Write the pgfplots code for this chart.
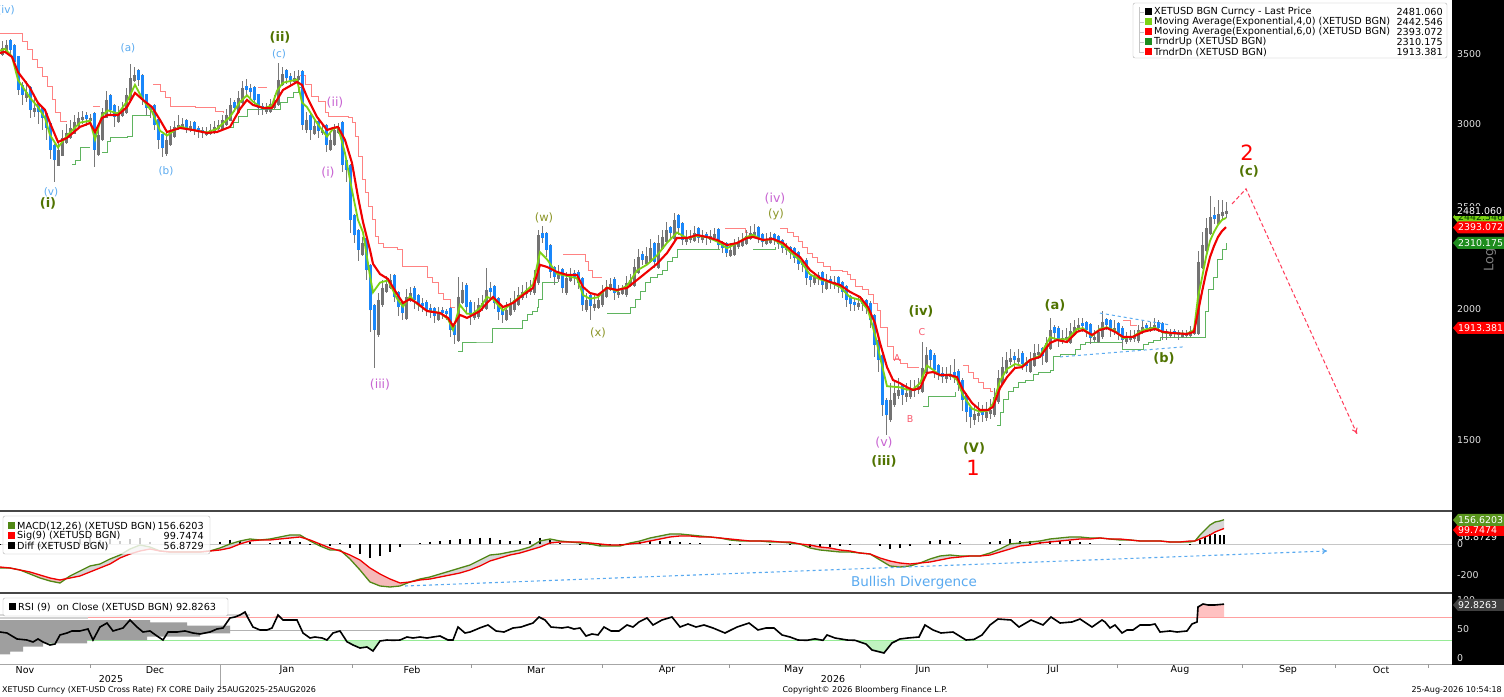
\documentclass[border=0pt]{standalone}
\usepackage{fontspec}
\setmainfont{DejaVu Sans}
\usepackage{pgfplots}
\pgfplotsset{compat=1.18}
\usepackage{pgfplotstable}
\usetikzlibrary{arrows.meta}
\newcommand{\fs}[1]{\fontsize{#1pt}{#1pt}\selectfont}
\definecolor{cblue}{RGB}{25,135,250}
\definecolor{cgrey}{RGB}{115,115,115}
\definecolor{cwick}{RGB}{120,120,120}
\definecolor{emag}{RGB}{124,210,20}
\definecolor{emar}{RGB}{240,0,0}
\definecolor{tup}{RGB}{95,180,95}
\definecolor{tupdark}{RGB}{30,140,30}
\definecolor{tdn}{RGB}{255,130,130}
\definecolor{lblue}{RGB}{90,170,240}
\definecolor{olive}{RGB}{80,115,0}
\definecolor{olivel}{RGB}{140,150,40}
\definecolor{orch}{RGB}{200,100,210}
\definecolor{pinkl}{RGB}{250,90,110}
\definecolor{macdg}{RGB}{80,135,20}
\definecolor{macdtag}{RGB}{90,150,30}
\definecolor{fillpink}{RGB}{245,185,185}
\definecolor{fillgrey}{RGB}{215,215,215}
\definecolor{rsired}{RGB}{255,160,160}
\definecolor{rsigreen}{RGB}{150,235,150}
\definecolor{tickgrey}{RGB}{225,225,225}
\definecolor{sepgrey}{RGB}{70,70,70}
\definecolor{arrowred}{RGB}{255,60,90}

\pgfplotstableread{
x o h l c
2 3493 3600 3488 3547
6 3524 3610 3519 3570
10 3609 3614 3480 3531
14 3573 3578 3400 3439
18 3481 3486 3200 3234
22 3269 3290 3130 3199
26 3178 3300 3150 3220
30 3258 3263 3040 3095
34 3079 3180 3050 3109
38 3137 3150 3000 3081
42 3117 3120 2960 3041
46 3077 3082 2900 2975
50 3010 3015 2780 2835
54 2869 2874 2640 2773
58 2739 2880 2734 2835
62 2800 2960 2795 2911
66 2879 3000 2874 2943
70 2911 3030 2906 2975
74 2939 3060 2934 3015
78 2989 3080 2984 3041
82 3026 3090 3000 3048
86 3063 3080 2990 3035
90 3020 3070 2990 3041
94 3077 3082 2730 2835
98 2801 2960 2796 2930
102 2895 3110 2890 3081
106 3044 3230 3039 3164
110 3201 3206 3070 3095
114 3132 3137 2980 3048
118 3015 3120 3010 3081
122 3053 3150 3048 3109
126 3072 3250 3067 3199
130 3160 3420 3155 3320
134 3298 3400 3290 3342
138 3378 3383 3260 3306
142 3345 3350 3130 3164
146 3202 3207 3060 3109
150 3125 3130 3040 3095
154 3132 3137 2960 2995
158 3031 3036 2840 2898
162 2933 2938 2790 2847
166 2812 2940 2800 2898
170 2863 2990 2858 2949
174 2916 3020 2911 2982
178 2967 3060 2960 2995
182 2980 3040 2970 3002
186 3029 3034 2940 2975
190 2960 3020 2950 2988
194 3014 3019 2930 2962
198 2977 2990 2910 2949
202 2964 2980 2910 2943
206 2928 2980 2920 2949
210 2934 3000 2929 2962
214 2942 3020 2937 2982
218 2967 3030 2960 2995
222 2962 3060 2957 3028
226 2995 3100 2990 3061
230 3024 3180 3019 3129
234 3149 3160 3080 3109
238 3072 3230 3067 3178
242 3140 3300 3135 3248
246 3264 3310 3200 3234
250 3250 3280 3180 3220
254 3258 3263 3130 3164
258 3202 3207 3060 3109
262 3125 3140 3060 3095
266 3080 3140 3070 3109
270 3082 3170 3077 3136
274 3108 3200 3103 3164
278 3126 3430 3121 3306
282 3266 3400 3261 3349
286 3378 3383 3280 3320
290 3337 3360 3270 3306
294 3290 3370 3280 3320
298 3304 3380 3290 3335
302 3375 3380 2960 2995
306 2962 3080 2940 3028
310 3064 3069 2900 2962
314 2936 3040 2931 2988
318 3020 3025 2910 2956
322 2941 3010 2930 2962
326 2997 3002 2820 2866
330 2834 2940 2829 2898
334 2863 3000 2858 2962
338 2942 3010 2937 2982
342 3017 3022 2700 2743
346 2773 2780 2640 2713
350 2744 2749 2360 2431
354 2460 2465 2310 2352
358 2380 2385 2220 2276
362 2249 2340 2244 2311
366 2338 2343 2130 2178
370 2203 2208 1900 1995
374 2018 2023 1755 1910
378 1887 2070 1882 2040
382 2015 2130 2010 2094
386 2075 2150 2070 2113
390 2095 2160 2090 2131
394 2156 2161 2030 2053
398 2077 2082 1970 2008
402 2032 2037 1950 1982
406 1958 2090 1953 2053
410 2035 2100 2030 2071
414 2096 2101 2000 2040
418 2063 2068 1990 2017
422 2027 2050 1985 2013
426 2031 2040 1970 1995
430 2005 2020 1960 1987
434 2005 2010 1940 1969
438 1951 2010 1946 1987
442 1997 2010 1955 1982
446 1992 2000 1950 1978
450 2002 2007 1880 1910
454 1931 1936 1850 1889
458 1866 2145 1861 2053
462 2028 2120 2023 2085
466 2110 2115 1985 2008
470 2032 2040 1930 1974
474 1961 2030 1950 1987
478 1963 2050 1958 2017
482 2007 2060 1990 2026
486 2001 2190 1996 2085
490 2095 2120 2040 2076
494 2101 2106 2000 2026
498 2050 2055 1950 1987
502 2000 2005 1940 1974
506 1953 2030 1948 1995
510 1973 2050 1968 2017
514 1994 2080 1989 2040
518 2018 2100 2013 2062
522 2048 2110 2040 2076
526 2066 2120 2050 2085
530 2074 2130 2060 2094
534 2069 2180 2064 2141
538 2115 2380 2110 2350
542 2363 2400 2310 2337
546 2365 2370 2240 2276
550 2303 2308 2140 2169
554 2193 2198 2110 2145
558 2134 2200 2120 2155
562 2181 2186 2070 2094
566 2069 2170 2064 2141
570 2127 2190 2120 2155
574 2166 2180 2110 2145
578 2171 2176 2090 2117
582 2142 2147 1990 2017
586 1994 2070 1989 2040
590 2064 2069 1950 2013
594 2003 2060 1990 2022
598 2004 2070 1999 2040
602 2015 2110 2010 2076
606 2053 2130 2048 2099
610 2085 2140 2080 2113
614 2138 2143 2040 2071
618 2061 2110 2050 2076
622 2066 2110 2060 2085
626 2060 2150 2055 2117
630 2103 2160 2098 2131
634 2105 2230 2100 2193
638 2166 2280 2161 2241
642 2255 2270 2200 2227
646 2208 2290 2203 2246
650 2219 2330 2214 2286
654 2313 2318 2190 2217
658 2190 2350 2185 2311
662 2283 2380 2278 2342
666 2314 2420 2309 2378
670 2393 2400 2330 2363
674 2334 2470 2329 2431
678 2460 2465 2350 2388
682 2416 2421 2300 2327
686 2315 2380 2300 2337
690 2325 2380 2310 2342
694 2321 2400 2316 2363
698 2389 2394 2310 2337
702 2325 2380 2310 2347
706 2359 2370 2300 2337
710 2325 2380 2310 2347
714 2335 2390 2320 2357
718 2385 2390 2280 2301
722 2316 2321 2260 2286
726 2311 2316 2240 2261
730 2246 2310 2240 2276
734 2251 2330 2246 2301
738 2289 2340 2280 2311
742 2295 2360 2290 2327
746 2307 2380 2302 2347
750 2331 2400 2326 2363
754 2351 2410 2340 2368
758 2396 2401 2310 2337
762 2357 2362 2290 2317
766 2305 2360 2300 2327
770 2312 2370 2307 2342
774 2357 2362 2300 2327
778 2348 2353 2280 2306
782 2326 2331 2260 2286
786 2297 2310 2250 2276
790 2291 2296 2230 2261
794 2285 2290 2210 2237
798 2264 2269 2180 2208
802 2219 2230 2170 2203
806 2229 2234 2110 2141
810 2152 2160 2100 2131
814 2117 2170 2110 2145
818 2156 2170 2110 2141
822 2167 2172 2070 2108
826 2090 2160 2085 2126
830 2137 2150 2090 2117
834 2106 2150 2090 2122
838 2145 2150 2070 2099
842 2122 2127 2050 2076
846 2101 2106 2010 2040
850 2058 2063 1990 2022
854 2032 2050 1990 2017
858 2007 2060 1995 2026
862 2036 2050 1990 2022
866 2040 2045 1980 2004
870 2028 2033 1920 1952
874 1975 1980 1800 1848
878 1870 1875 1740 1788
882 1809 1814 1580 1620
886 1639 1644 1517 1585
890 1566 1700 1560 1638
894 1618 1710 1613 1663
898 1652 1720 1640 1674
902 1692 1697 1620 1656
906 1648 1700 1630 1663
910 1649 1710 1640 1677
914 1669 1710 1650 1681
918 1673 1720 1660 1688
922 1667 1860 1662 1757
926 1736 1840 1731 1808
930 1828 1833 1760 1788
934 1809 1814 1720 1749
938 1768 1773 1710 1730
942 1739 1760 1700 1722
946 1713 1760 1700 1730
950 1721 1770 1710 1734
954 1743 1790 1700 1726
958 1747 1752 1670 1692
962 1712 1717 1600 1638
966 1657 1662 1560 1595
970 1612 1617 1540 1578
974 1568 1620 1550 1588
978 1580 1630 1560 1592
982 1600 1620 1560 1585
986 1575 1630 1565 1595
990 1587 1640 1570 1602
994 1583 1680 1578 1649
998 1629 1750 1624 1718
1002 1697 1800 1692 1760
1006 1739 1820 1734 1788
1010 1779 1830 1770 1796
1014 1805 1820 1760 1788
1018 1779 1830 1770 1796
1022 1817 1822 1750 1772
1026 1781 1800 1740 1764
1030 1743 1820 1738 1788
1034 1766 1850 1761 1816
1038 1807 1850 1790 1820
1042 1836 1841 1770 1804
1046 1782 1880 1777 1856
1050 1833 1960 1828 1910
1054 1923 1930 1860 1897
1058 1920 1925 1840 1868
1062 1859 1910 1850 1877
1066 1868 1920 1860 1881
1070 1858 1940 1853 1906
1074 1890 1950 1885 1922
1078 1912 1960 1900 1931
1082 1941 1960 1900 1927
1086 1944 1949 1880 1910
1090 1933 1938 1850 1877
1094 1868 1910 1860 1881
1098 1860 1930 1855 1902
1102 1879 1990 1874 1944
1106 1957 1962 1910 1931
1110 1952 1957 1880 1910
1114 1900 1950 1890 1918
1118 1939 1944 1870 1897
1122 1920 1925 1840 1868
1126 1859 1900 1850 1877
1130 1868 1910 1860 1881
1134 1872 1910 1860 1885
1138 1862 1930 1857 1910
1142 1898 1950 1893 1922
1146 1932 1940 1900 1918
1150 1908 1945 1900 1922
1154 1912 1960 1905 1931
1158 1944 1950 1900 1918
1162 1939 1944 1870 1897
1166 1907 1915 1870 1893
1170 1884 1915 1875 1897
1174 1907 1912 1875 1893
1178 1903 1910 1870 1889
1182 1880 1910 1875 1893
1186 1884 1910 1875 1895
1190 1884 1925 1879 1906
1194 1894 1945 1889 1918
1198 1894 2270 1889 2217
1202 2190 2370 2185 2301
1206 2273 2440 2268 2388
1210 2359 2560 2354 2447
1214 2459 2500 2410 2436
1218 2409 2540 2404 2463
1222 2451 2540 2430 2474
1226 2462 2530 2440 2481
}\candles

\pgfplotstableread{
x r g
0 3508 3525
5 3516 3540
12 3477 3480
18 3364 3306
30 3248 3179
38 3143 3115
45 3095 3041
50 3008 2930
58 2885 2850
67 2911 2925
80 2982 3010
90 3008 3023
95 2949 2900
102 3041 3059
108 3061 3092
118 3061 3070
127 3115 3153
135 3213 3271
143 3164 3164
152 3115 3084
160 3028 2957
167 2949 2926
180 2975 2985
193 2962 2962
207 2943 2946
217 2949 2970
230 2982 3048
240 3102 3150
247 3164 3196
253 3129 3152
263 3109 3103
272 3109 3127
277 3164 3228
283 3234 3286
297 3291 3309
302 3270 3146
307 3185 3114
317 3048 3007
327 2962 2919
333 2975 2969
338 2982 2982
345 2898 2815
352 2755 2595
358 2557 2431
363 2420 2366
370 2276 2150
373 2208 2074
380 2159 2119
388 2136 2129
397 2067 2046
403 2026 2010
410 2044 2056
417 2026 2022
427 1991 1992
440 1982 1983
448 1961 1956
453 1927 1910
460 1974 2017
467 1961 1979
473 1974 1979
480 1991 2005
487 2026 2053
493 2053 2043
503 2008 1993
513 2026 2030
523 2062 2068
533 2094 2110
540 2203 2265
547 2193 2230
557 2169 2160
567 2155 2150
577 2155 2139
583 2099 2062
590 2071 2045
598 2062 2052
607 2094 2097
617 2085 2080
627 2094 2104
637 2131 2176
647 2169 2204
657 2208 2249
667 2261 2312
677 2337 2365
687 2337 2336
697 2352 2347
707 2342 2341
717 2327 2319
727 2301 2285
737 2311 2310
747 2337 2343
753 2342 2353
763 2327 2324
773 2332 2331
783 2311 2299
793 2266 2254
800 2241 2225
810 2178 2157
820 2141 2134
830 2122 2120
840 2108 2099
850 2076 2052
860 2053 2040
868 2008 1995
875 1939 1890
880 1856 1800
887 1760 1688
893 1711 1686
900 1699 1684
907 1684 1675
913 1674 1677
920 1681 1699
927 1738 1766
933 1741 1750
940 1730 1728
950 1730 1732
957 1722 1712
963 1674 1654
972 1627 1607
980 1602 1596
988 1602 1600
993 1613 1625
1000 1681 1708
1007 1722 1753
1015 1757 1772
1022 1760 1765
1030 1788 1788
1040 1800 1805
1050 1856 1880
1057 1868 1871
1067 1860 1871
1077 1902 1914
1083 1910 1917
1092 1889 1885
1100 1910 1915
1107 1918 1921
1115 1902 1906
1123 1881 1876
1133 1881 1882
1143 1902 1910
1155 1914 1920
1163 1902 1899
1173 1897 1896
1187 1893 1894
1194 1902 1910
1198 1987 2053
1202 2076 2141
1206 2164 2241
1210 2241 2322
1214 2296 2368
1218 2342 2405
1222 2373 2431
1226 2393 2442
}\ema

\pgfplotstableread{
x m s
0 -154.8 -148.4
10 -154.8 -154.8
20 -167.7 -167.7
30 -193.5 -180.6
40 -219.3 -200
50 -238.7 -219.3
60 -251.6 -232.2
70 -206.4 -219.3
80 -174.2 -206.4
90 -141.9 -180.6
100 -129 -154.8
110 -96.8 -129
120 -71 -90.3
130 -32.3 -64.5
140 -6.5 -45.2
150 -19.4 -32.3
160 -45.2 -45.2
170 -51.6 -51.6
180 -51.6 -51.6
190 -51.6 -51.6
200 -51.6 -51.6
210 -45.2 -45.2
220 -25.8 -38.7
230 0 -25.8
240 19.4 0
250 32.3 19.4
260 25.8 25.8
270 32.3 25.8
280 45.2 32.3
290 58.1 38.7
300 58.1 45.2
310 19.4 25.8
320 -12.9 0
330 -38.7 -25.8
340 -38.7 -45.2
350 -96.8 -71
360 -167.7 -103.2
370 -245.1 -154.8
380 -270.9 -193.5
390 -277.4 -225.8
400 -270.9 -251.6
410 -245.1 -245.1
420 -225.8 -232.2
430 -212.9 -225.8
440 -193.5 -212.9
450 -174.2 -200
460 -154.8 -187
470 -135.5 -167.7
480 -103.2 -141.9
490 -71 -109.7
500 -64.5 -90.3
510 -51.6 -71
520 -38.7 -58.1
530 -19.4 -38.7
540 19.4 -19.4
550 32.3 6.5
560 19.4 12.9
570 12.9 12.9
580 6.5 12.9
590 0 6.5
600 -12.9 0
610 -12.9 -6.5
620 -12.9 -6.5
630 6.5 0
640 19.4 6.5
650 38.7 19.4
660 51.6 32.3
670 64.5 45.2
680 64.5 51.6
690 58.1 51.6
700 51.6 45.2
710 45.2 45.2
720 38.7 38.7
730 25.8 32.3
740 19.4 25.8
750 19.4 19.4
760 19.4 19.4
770 12.9 19.4
780 12.9 12.9
790 6.5 12.9
800 0 0
810 -25.8 -6.5
820 -38.7 -19.4
830 -45.2 -25.8
840 -51.6 -38.7
850 -51.6 -45.2
860 -58.1 -58.1
870 -64.5 -64.5
880 -103.2 -90.3
890 -141.9 -109.7
900 -148.4 -122.6
910 -141.9 -129
920 -122.6 -122.6
930 -96.8 -116.1
940 -77.4 -103.2
950 -71 -90.3
960 -77.4 -83.9
970 -77.4 -77.4
980 -77.4 -77.4
990 -58.1 -71
1000 -32.3 -51.6
1010 0 -32.3
1020 6.5 -12.9
1030 12.9 -6.5
1040 19.4 6.5
1050 32.3 12.9
1060 38.7 19.4
1070 45.2 25.8
1080 45.2 32.3
1090 38.7 32.3
1100 38.7 38.7
1110 32.3 32.3
1120 25.8 32.3
1130 25.8 25.8
1140 19.4 19.4
1150 19.4 19.4
1160 19.4 19.4
1170 12.9 12.9
1180 12.9 12.9
1190 12.9 19.4
1195 19.4 19.4
1200 58.1 32.3
1205 90.3 45.2
1210 122.6 58.1
1215 141.9 77.4
1220 148.4 90.3
1224 156.6 99.7
}\macd

\pgfplotstableread{
x r
0 44.8
7 43.1
17 32.8
27 31
33 27.6
38 32.8
43 27.6
50 22.4
55 24.1
60 39.7
67 43.1
72 46.6
80 46.6
88 50
93 31
100 53.4
107 60.3
113 46.6
123 51.7
130 65.5
137 53.4
143 44.8
150 46.6
157 37.9
163 31
168 44.8
177 44.8
185 46.6
193 43.1
200 41.4
210 44.8
217 50
223 51.7
230 69
235 70.7
240 74.1
245 79.3
248 69
253 53.4
260 48.3
267 48.3
272 51.7
278 74.1
283 65.5
290 65.5
297 65.5
303 43.1
310 34.5
315 36.2
322 34.5
327 31
333 43.1
340 46.6
347 28
353 22.4
360 17.2
367 19
373 12.1
380 29.3
387 31
393 30.5
400 31
407 36.2
413 34.5
420 36.2
427 34.5
433 36.2
440 37.9
448 31
453 31
458 53.4
465 43.1
470 44.8
475 48.3
480 52
488 56.9
496 46.6
504 44.8
513 51.7
521 53.4
527 56.9
533 60.3
539 70.7
545 65.5
551 53.4
562 51.7
568 53.4
574 50
580 51.7
586 37.9
592 41.4
598 39.7
604 53.4
611 46.6
619 46.6
627 56.9
633 53.4
639 62.1
647 69
653 56.9
662 65.5
672 70.7
680 53.4
688 58.6
696 53.4
704 56.9
713 51.7
725 43.1
737 53.4
749 60.3
758 48.3
766 51.7
774 51.7
782 39.7
790 36.2
798 31
807 30.5
815 33
823 30.5
827 39.7
835 34.5
847 31
855 30.5
866 24
872 13.8
884 8.6
892 25.9
900 32.8
908 34.5
919 36.2
925 56.9
933 48.3
941 43.1
953 44.8
966 31
974 32
982 39.7
990 56.9
998 67.2
1011 65.5
1019 53.4
1031 65.5
1043 56.9
1051 70.7
1060 60.3
1072 62.1
1080 67.2
1092 53.4
1102 65.5
1105 62.1
1110 51.7
1115 56.9
1122 43.1
1127 48.3
1133 48.3
1140 56.9
1150 56.9
1155 58.6
1160 44.8
1170 46.6
1177 44.8
1187 46.6
1192 58.6
1197 62.1
1198 87.9
1203 93.1
1208 91.4
1215 91.4
1224 92.8
}\rsi

\pgfplotsset{panel/.style={scale only axis, anchor=south west, width=1452pt,
  xmin=0, xmax=1452, axis line style={draw=none}, major tick length=0pt,
  minor tick length=0pt, xtick=\empty, yticklabel pos=right,
  yticklabel style={anchor=west, xshift=5pt, inner sep=0pt, text=tickgrey, font=\fs{9.4}},
  clip=true},
  bare/.style={panel, ytick=\empty},
  nomark/.style={only marks, mark=*, mark size=0pt, mark options={draw=none, fill=none}, forget plot}}

\newcommand{\vtag}[4]{\fill[#2] (1453,#1) -- (1458,#1+6) -- (1504,#1+6) -- (1504,#1-6) -- (1458,#1-6) -- cycle;
\node[anchor=west, inner sep=0pt, text=#3, font=\fs{9.4}] at (1458,#1) {#4};}

\begin{document}
\begin{tikzpicture}[x=1pt,y=1pt]
\useasboundingbox (0,0) rectangle (1504,696);
\fill[white] (0,0) rectangle (1504,696);
\fill[black] (1452,31) rectangle (1504,696);

% ---------------- main price panel
\begin{axis}[panel, at={(0pt,185pt)}, height=511pt, ymode=log, ymin=1283.6, ymax=3940.4,
  ytick={1500,2000,2500,3000,3500}, yticklabels={1500,2000,2500,3000,3500}]
\addplot[tdn, const plot, line width=1pt, mark=none] coordinates {(0,3665)(22,3593)(27,3531)(32,3454)(37,3394)(42,3328)(47,3256)(52,3164)(55,3081)(60,3015)(67,3015)};
\addplot[tdn, const plot, line width=1pt, mark=none] coordinates {(93,3122)(100,3122)};
\addplot[tdn, const plot, line width=1pt, mark=none] coordinates {(153,3270)(160,3220)(165,3178)(170,3122)(195,3109)(215,3088)(223,3075)};
\addplot[tdn, const plot, line width=1pt, mark=none] coordinates {(258,3248)(267,3248)};
\addplot[tdn, const plot, line width=1pt, mark=none] coordinates {(300,3342)(305,3270)(311,3185)(318,3150)(325,3075)(328,3048)(348,3041)(352,3008)(355,2917)(358,2792)(362,2654)(365,2580)(368,2502)(372,2431)(375,2342)(378,2311)(383,2291)(397,2276)(402,2193)(427,2145)(432,2117)(438,2071)(443,2040)(450,2008)(455,2008)};
\addplot[tdn, const plot, line width=1pt, mark=none] coordinates {(563,2256)(580,2256)(585,2217)(588,2178)(592,2145)(597,2141)(602,2141)};
\addplot[tdn, const plot, line width=1pt, mark=none] coordinates {(725,2388)(745,2363)(748,2363)};
\addplot[tdn, const plot, line width=1pt, mark=none] coordinates {(780,2388)(787,2363)(793,2342)(798,2317)(802,2291)(807,2261)(812,2237)(817,2212)(823,2193)(830,2178)(842,2169)(847,2155)(850,2131)(855,2099)(862,2085)(868,2062)(873,2026)(877,1995)(880,1922)(887,1840)(893,1788)(900,1776)(907,1760)(918,1757)};
\addplot[tdn, const plot, line width=1pt, mark=none] coordinates {(963,1768)(968,1741)(973,1718)(978,1700)(983,1681)(990,1667)(993,1667)};
\addplot[tdn, const plot, line width=1pt, mark=none] coordinates {(1123,1948)(1130,1930)(1137,1930)};
\addplot[tup, const plot, line width=1pt, mark=none] coordinates {(72,2743)(75,2773)(80,2853)(90,2853)};
\addplot[tup, const plot, line width=1pt, mark=none] coordinates {(102,2822)(107,2885)(110,2911)(127,2917)(132,3061)(150,3061)};
\addplot[tup, const plot, line width=1pt, mark=none] coordinates {(230,2975)(233,3008)(238,3048)(247,3095)(280,3143)(287,3178)(293,3213)(298,3248)(302,3248)};
\addplot[tup, const plot, line width=1pt, mark=none] coordinates {(458,1820)(462,1860)(490,1860)(492,1918)(520,1918)(522,1948)(527,1974)(532,1987)(537,2004)(538,2040)(542,2117)(558,2117)};
\addplot[tup, const plot, line width=1pt, mark=none] coordinates {(607,1982)(630,2004)(635,2040)(640,2076)(645,2117)(650,2141)(657,2155)(662,2178)(667,2217)(672,2237)(677,2276)(682,2281)(720,2281)};
\addplot[tup, const plot, line width=1pt, mark=none] coordinates {(753,2276)(775,2291)};
\addplot[tup, const plot, line width=1pt, mark=none] coordinates {(923,1613)(928,1652)(955,1667)};
\addplot[tup, const plot, line width=1pt, mark=none] coordinates {(997,1550)(1000,1592)(1003,1638)(1008,1667)(1013,1684)(1018,1700)(1025,1711)(1033,1730)(1038,1741)(1050,1749)(1053,1800)(1060,1808)(1070,1808)(1075,1828)(1080,1848)(1085,1856)(1117,1856)(1122,1828)(1140,1828)(1143,1848)(1148,1860)(1153,1868)(1160,1877)(1203,1877)(1205,1987)(1208,2085)(1213,2145)(1217,2227)(1222,2276)(1226,2310)};
\addplot[nomark, error bars/.cd, y dir=both, y explicit, error mark=none,
  error bar style={line width=1pt, draw=cwick}]
  table[x=x, y=c, y error plus expr=\thisrow{h}-\thisrow{c}, y error minus expr=\thisrow{c}-\thisrow{l}] {\candles};
\addplot[nomark, restrict expr to domain={\thisrow{c}-\thisrow{o}}{0:100000},
  error bars/.cd, y dir=minus, y explicit, error mark=none, error bar style={line width=3pt, draw=cgrey}]
  table[x=x, y=c, y error minus expr=\thisrow{c}-\thisrow{o}] {\candles};
\addplot[nomark, restrict expr to domain={\thisrow{o}-\thisrow{c}}{0.001:100000},
  error bars/.cd, y dir=plus, y explicit, error mark=none, error bar style={line width=3pt, draw=cblue}]
  table[x=x, y=c, y error plus expr=\thisrow{o}-\thisrow{c}] {\candles};
\addplot[emag, line width=1.8pt, mark=none] table[x=x, y=g] {\ema};
\addplot[emar, line width=2.1pt, mark=none] table[x=x, y=r] {\ema};
\addplot[lblue, dashed, line width=1pt, mark=none] coordinates {(1100,1982)(1170,1931)};
\addplot[lblue, dashed, line width=1pt, mark=none] coordinates {(1060,1800)(1183,1840)};
\addplot[arrowred, dash pattern=on 4pt off 2.5pt, line width=1pt, mark=none, -{To[length=6pt,width=6pt]}] coordinates {(1232,2518)(1246,2603)(1357,1520)};
\end{axis}

% ---------------- MACD panel fills (stacked areas)
\begin{axis}[bare, at={(0pt,103pt)}, height=81pt, ymin=-316.1, ymax=206.4, stack plots=y]
\addplot[draw=none, mark=none] table[x=x, y=s] {\macd};
\addplot[fill=fillgrey, draw=none, mark=none] table[x=x, y expr={max(\thisrow{m}-\thisrow{s},0)}] {\macd} \closedcycle;
\end{axis}
\begin{axis}[bare, at={(0pt,103pt)}, height=81pt, ymin=-316.1, ymax=206.4, stack plots=y]
\addplot[draw=none, mark=none] table[x=x, y=m] {\macd};
\addplot[fill=fillpink, draw=none, mark=none] table[x=x, y expr={max(\thisrow{s}-\thisrow{m},0)}] {\macd} \closedcycle;
\end{axis}
\begin{axis}[panel, at={(0pt,103pt)}, height=81pt, ymin=-316.1, ymax=206.4,
  ytick={-200,0}, yticklabels={-200,0}]
\addplot[gray!45, line width=0.5pt, mark=none] coordinates {(0,0)(1452,0)};
\addplot[nomark, error bars/.cd, y dir=minus, y explicit, error mark=none,
  error bar style={line width=1.1pt, draw=black}]
  table[x=x, y expr=\thisrow{m}-\thisrow{s}, y error minus expr=\thisrow{m}-\thisrow{s}] {\macd};
\addplot[macdg, line width=1.3pt, mark=none] table[x=x, y=m] {\macd};
\addplot[emar, line width=1.3pt, mark=none] table[x=x, y=s] {\macd};
\addplot[lblue, dashed, line width=1.1pt, mark=none, -{To[length=5pt,width=6pt]}] coordinates {(405,-270.9)(1327,-45.2)};
\end{axis}

% ---------------- RSI panel
\begin{axis}[bare, at={(0pt,32pt)}, height=69pt, ymin=-10.34, ymax=108.6, stack plots=y]
\addplot[draw=none, mark=none] table[x=x, y expr=70] {\rsi};
\addplot[fill=rsired!65, draw=none, mark=none] table[x=x, y expr={max(\thisrow{r}-70,0)}] {\rsi} \closedcycle;
\end{axis}
\begin{axis}[bare, at={(0pt,32pt)}, height=69pt, ymin=-10.34, ymax=108.6, stack plots=y]
\addplot[draw=none, mark=none] table[x=x, y expr={min(\thisrow{r},30)}] {\rsi};
\addplot[fill=rsigreen!60, draw=none, mark=none] table[x=x, y expr={30-min(\thisrow{r},30)}] {\rsi} \closedcycle;
\end{axis}
\begin{axis}[panel, at={(0pt,32pt)}, height=69pt, ymin=-10.34, ymax=108.6,
  ytick={0,50,100}, yticklabels={0,50,100}]
\addplot[rsired, line width=1pt, mark=none] coordinates {(0,70)(1452,70)};
\addplot[rsigreen, line width=1pt, mark=none] coordinates {(0,30)(1452,30)};
\addplot[fill=gray!75, draw=none, mark=none] coordinates {(0,65.5)(150,65.5)(150,61.6)(187,61.6)(187,55.7)(230,55.7)(230,42.6)(200,42.6)(200,36.7)(147,36.7)(147,31)(87,31)(87,25.3)(43,25.3)(43,19.5)(23,19.5)(23,10.9)(10,10.9)(10,6.4)(0,6.4)};
\addplot[gray!35, line width=1.2pt, mark=none] coordinates {(0,69)(88,69)};
\addplot[gray!30, line width=1.2pt, mark=none] coordinates {(0,74)(250,74)};
\addplot[gray!60, line width=1pt, mark=none] coordinates {(230,46.6)(420,46.6)};
\addplot[black, line width=1.6pt, mark=none] table[x=x, y=r] {\rsi};
\end{axis}

\draw[sepgrey, line width=2pt] (0,184.5) -- (1452,184.5);
\draw[sepgrey, line width=2pt] (0,102.5) -- (1452,102.5);
\draw[gray!70, line width=0.8pt] (0,32) -- (1452,32);
\foreach \xx in {90,220,352,471,602,729,860,987,1117,1242,1335,1428} {\draw[gray!80] (\xx,32) -- (\xx,28);}
\draw[gray!70] (220,32) -- (220,10);
\foreach \xx/\mm in {25/Nov,155/Dec,287/Jan,412/Feb,536/Mar,667/Apr,794/May,923/Jun,1053/Jul,1180/Aug,1288/Sep,1381/Oct}
  {\node[font=\fs{9.5}] at (\xx,26) {\mm};}
\node[font=\fs{9.5}] at (111,16.5) {2025};
\node[font=\fs{9.5}] at (833,16.5) {2026};
\node[anchor=west, inner sep=0pt, font=\fs{8}] at (2,5.5) {XETUSD Curncy (XET-USD Cross Rate) FX CORE Daily 25AUG2025-25AUG2026};
\node[inner sep=0pt, font=\fs{8}] at (865,5.5) {Copyright© 2026 Bloomberg Finance L.P.};
\node[anchor=east, inner sep=0pt, font=\fs{8}] at (1502,5.5) {25-Aug-2026 10:54:18};

\node[text=lblue, font=\fs{10.5}] at (6,686) {(iv)};
\node[text=lblue, font=\fs{10.5}] at (128,648) {(a)};
\node[text=lblue, font=\fs{10.5}] at (51,504) {(v)};
\node[text=olive, font=\fs{13}\bfseries] at (48,493) {(i)};
\node[text=lblue, font=\fs{10.5}] at (166,525) {(b)};
\node[text=olive, font=\fs{13}\bfseries] at (280,659) {(ii)};
\node[text=lblue, font=\fs{10.5}] at (279,642) {(c)};
\node[text=orch, font=\fs{12.5}] at (335,593) {(ii)};
\node[text=orch, font=\fs{12.5}] at (328,523) {(i)};
\node[text=orch, font=\fs{12.5}] at (380,311) {(iii)};
\node[text=olivel, font=\fs{11.5}] at (544,478) {(w)};
\node[text=olivel, font=\fs{11.5}] at (598,363) {(x)};
\node[text=orch, font=\fs{12.5}] at (775,497) {(iv)};
\node[text=olivel, font=\fs{11.5}] at (776,482) {(y)};
\node[text=olive, font=\fs{13}\bfseries] at (921,385) {(iv)};
\node[text=pinkl, font=\fs{9.5}] at (922,364) {C};
\node[text=pinkl, font=\fs{9.5}] at (897,338) {A};
\node[text=pinkl, font=\fs{9.5}] at (910,277) {B};
\node[text=orch, font=\fs{12.5}] at (884,253) {(v)};
\node[text=olive, font=\fs{13}\bfseries] at (884,235) {(iii)};
\node[text=olive, font=\fs{13}\bfseries] at (974,248) {(V)};
\node[text=red, font=\fs{21}] at (973,228) {1};
\node[text=olive, font=\fs{13}\bfseries] at (1055,391) {(a)};
\node[text=olive, font=\fs{13}\bfseries] at (1164,338) {(b)};
\node[text=red, font=\fs{21}] at (1247,543) {2};
\node[text=olive, font=\fs{13}\bfseries] at (1249,525) {(c)};
\node[text=lblue, font=\fs{13.5}] at (914,113) {Bullish Divergence};

\node[rotate=90, text=gray, font=\fs{13}] at (1490,436) {Log};
\vtag{479}{emag}{black!75!green}{2442.546}
\fill[black] (1455,480) rectangle (1504,490);
\node[anchor=west, inner sep=0pt, text=white, font=\fs{9.4}] at (1457,485) {2481.060};
\vtag{468.5}{red}{white}{2393.072}
\vtag{453}{tupdark}{white}{2310.175}
\vtag{368}{red}{white}{1913.381}
\node[anchor=west, inner sep=0pt, text=white, font=\fs{9.4}] at (1458,159) {56.8729};
\vtag{166}{red}{white}{99.7474}
\vtag{176}{macdtag}{white}{156.6203}
\vtag{91}{black!75}{white}{92.8263}

\draw[gray!60, fill=white, rounded corners=2pt] (1133,638) rectangle (1447,693);
\draw[gray!45] (1139,689) -- (1139,644);
\foreach \yy in {684,674,664,654,644} {\draw[gray!45] (1139,\yy) -- (1144,\yy);}
\fill[black] (1145,680.5) rectangle (1152,687.5);
\fill[emag] (1145,670.5) rectangle (1152,677.5);
\fill[red] (1145,660.5) rectangle (1152,667.5);
\fill[tupdark] (1145,650.5) rectangle (1152,657.5);
\fill[red] (1145,640.5) rectangle (1152,647.5);
\foreach \yy/\tt/\vv in {684/{XETUSD BGN Curncy - Last Price}/2481.060,674/{Moving Average(Exponential,4,0) (XETUSD BGN)}/2442.546,664/{Moving Average(Exponential,6,0) (XETUSD BGN)}/2393.072,654/{TrndrUp (XETUSD BGN)}/2310.175,644/{TrndrDn (XETUSD BGN)}/1913.381}
  {\node[anchor=west, inner sep=0pt, font=\fs{9.7}] at (1154,\yy) {\tt};
   \node[anchor=east, inner sep=0pt, font=\fs{9.7}] at (1443,\yy) {\vv};}

\draw[gray!60, fill=white, fill opacity=0.8, rounded corners=2pt] (3,142) rectangle (210,180);
\fill[macdg] (8,166.5) rectangle (15,173.5);
\fill[red] (8,156.5) rectangle (15,163.5);
\fill[black] (8,146.5) rectangle (15,153.5);
\foreach \yy/\tt/\vv in {170/{MACD(12,26) (XETUSD BGN)}/156.6203,160/{Sig(9) (XETUSD BGN)}/99.7474,150/{Diff (XETUSD BGN)}/56.8729}
  {\node[anchor=west, inner sep=0pt, font=\fs{9.7}] at (17,\yy) {\tt};
   \node[anchor=east, inner sep=0pt, font=\fs{9.7}] at (204,\yy) {\vv};}

\draw[gray!60, fill=white, rounded corners=2pt] (3,80) rectangle (228,98);
\fill[black] (9,85.5) rectangle (16,92.5);
\node[anchor=west, inner sep=0pt, font=\fs{9.7}] at (18,89) {RSI (9)\ \ on Close (XETUSD BGN) 92.8263};
\end{tikzpicture}
\end{document}
